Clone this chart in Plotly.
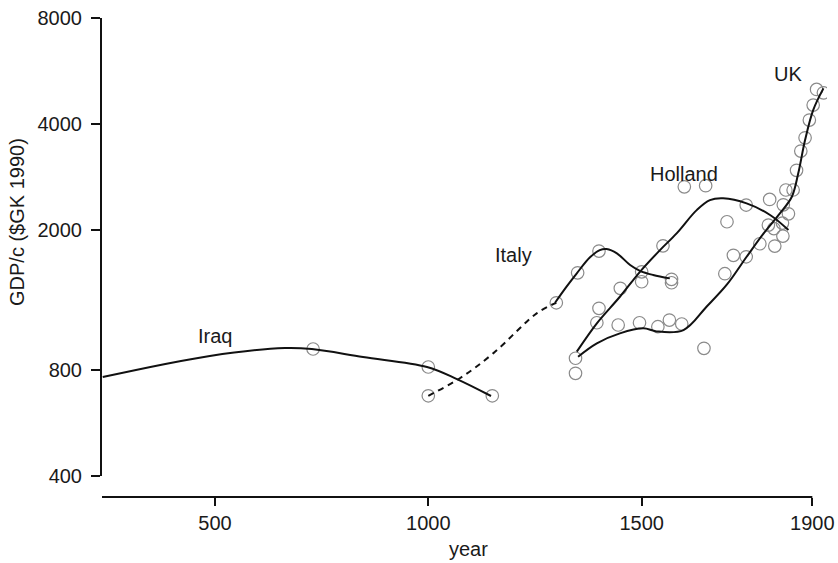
import math
import plotly.graph_objects as go

# ---------------- data ----------------
iraq_pts_year = [730, 1000, 1150]
iraq_pts_gdp = [918, 816, 676]

italy_pts_year = [1000, 1300, 1350, 1400, 1500, 1500, 1570, 1570]
italy_pts_gdp = [676, 1242, 1511, 1742, 1521, 1425, 1448, 1416]

holland_pts_year = [1400, 1450, 1550, 1600, 1650, 1700, 1745, 1800, 1810, 1830, 1838, 1855]
holland_pts_gdp = [1198, 1365, 1803, 2652, 2671, 2110, 2354, 2442, 2018, 2092, 2597, 2597]

uk_pts_year = [1345, 1345, 1395, 1445, 1495, 1538, 1565, 1594, 1646, 1695, 1715, 1745, 1777,
               1797, 1812, 1831, 1832, 1844, 1863, 1873, 1883, 1893, 1902, 1910, 1926]
uk_pts_gdp = [864, 783, 1090, 1074, 1090, 1062, 1109, 1081, 922, 1502, 1694, 1678, 1827,
              2065, 1800, 1921, 2357, 2222, 2953, 3350, 3654, 4102, 4525, 5015, 4905]

# smoothed trend curves
iraq_fit_year = [237, 488, 664, 727, 847, 997, 1067, 1147]
iraq_fit_gdp = [764, 877, 924, 918, 871, 816, 754, 675]

italy_gap_year = [1000, 1074, 1152, 1254, 1300]
italy_gap_gdp = [676, 758, 892, 1159, 1242]

italy_fit_year = [1297, 1324, 1348, 1379, 1402, 1418, 1442, 1473, 1496, 1527, 1566]
italy_fit_gdp = [1242, 1380, 1506, 1672, 1753, 1765, 1716, 1590, 1531, 1490, 1457]

holland_fit_year = [1348, 1395, 1449, 1496, 1543, 1582, 1629, 1660, 1691, 1746, 1801, 1844]
holland_fit_gdp = [902, 1086, 1292, 1521, 1753, 1956, 2277, 2431, 2459, 2380, 2205, 1998]

uk_fit_year = [1351, 1395, 1449, 1504, 1535, 1598, 1652, 1700, 1746, 1785, 1824, 1852,
               1867, 1883, 1902, 1926]
uk_fit_gdp = [873, 953, 1017, 1051, 1030, 1039, 1210, 1400, 1678, 1950, 2229, 2485,
              2896, 3600, 4380, 5048]

label_text = ["Iraq", "Italy", "Holland", "UK"]
label_year = [500, 1200, 1600, 1843]
label_gdp = [1000, 1700, 2880, 5540]

y_ticks = [400, 800, 2000, 4000, 8000]
x_ticks = [500, 1000, 1500, 1900]

# ---------------- figure ----------------
FONT = "Liberation Sans, Arial, Helvetica, sans-serif"
TXT = "#1a1a1a"
W, H = 838, 563
ML, MR, MT, MB = 102, 11, 18, 66
plot_w = W - ML - MR
plot_h = H - MT - MB
x_lo = 235.3
x_hi = x_lo + plot_w / 0.4267
y_dom0 = 21 / plot_h

fig = go.Figure()

mk = dict(symbol="circle-open", size=12.5, color="#8a8a8a", line=dict(width=1.2, color="#8a8a8a"))
for xs, ys in [(iraq_pts_year, iraq_pts_gdp), (italy_pts_year, italy_pts_gdp),
               (holland_pts_year, holland_pts_gdp), (uk_pts_year, uk_pts_gdp)]:
    fig.add_trace(go.Scatter(x=xs, y=ys, mode="markers", marker=mk, showlegend=False,
                             hoverinfo="x+y"))

ln = dict(color="#111111", width=2)
for xs, ys in [(iraq_fit_year, iraq_fit_gdp), (italy_fit_year, italy_fit_gdp),
               (holland_fit_year, holland_fit_gdp), (uk_fit_year, uk_fit_gdp)]:
    fig.add_trace(go.Scatter(x=xs, y=ys, mode="lines", line=dict(shape="spline", **ln),
                             showlegend=False))
fig.add_trace(go.Scatter(x=italy_gap_year, y=italy_gap_gdp, mode="lines",
                         line=dict(shape="spline", dash="6px,5px", **ln), showlegend=False))

for t, xv, yv in zip(label_text, label_year, label_gdp):
    fig.add_annotation(x=xv, y=math.log10(yv), xref="x", yref="y", text=t, showarrow=False,
                       xanchor="center", yanchor="middle",
                       font=dict(family=FONT, size=20, color=TXT))

# axis titles
fig.add_annotation(x=(17 - ML) / plot_w, y=(H - MB - 222) / plot_h, xref="paper", yref="paper",
                   text="GDP/c ($GK 1990)", textangle=-90, showarrow=False,
                   xanchor="center", yanchor="middle",
                   font=dict(family=FONT, size=20, color=TXT))
fig.add_annotation(x=(468 - ML) / plot_w, y=(H - MB - 549) / plot_h, xref="paper", yref="paper",
                   text="year", showarrow=False, xanchor="center", yanchor="middle",
                   font=dict(family=FONT, size=20, color=TXT))

# x-axis line (from the left limit to the last tick)
fig.add_shape(type="line", xref="x", yref="paper", x0=x_lo, x1=x_ticks[-1], y0=0, y1=0,
              line=dict(color="#111111", width=2))

fig.update_layout(
    width=W, height=H,
    margin=dict(l=ML, r=MR, t=MT, b=MB),
    paper_bgcolor="white", plot_bgcolor="white",
    font=dict(family=FONT, size=20, color=TXT),
    xaxis=dict(range=[x_lo, x_hi], anchor="free", position=0, showline=False,
               showgrid=False, zeroline=False, tickmode="array", tickvals=x_ticks,
               ticktext=[str(v) for v in x_ticks], ticks="outside", ticklen=8, tickwidth=2,
               tickcolor="#111111", tickfont=dict(size=20, color=TXT), automargin=False),
    yaxis=dict(type="log", range=[math.log10(400), math.log10(8000)], domain=[y_dom0, 1],
               showline=True, linecolor="#111111", linewidth=2, showgrid=False,
               zeroline=False, tickmode="array", tickvals=y_ticks,
               ticktext=[str(v) for v in y_ticks], ticks="outside", ticklen=9, tickwidth=2,
               tickcolor="#111111", ticklabelstandoff=5, tickfont=dict(size=20, color=TXT),
               automargin=False),
)

fig.write_html("out.html", config={"displayModeBar": False},
               post_script="document.body.style.margin='0px';document.body.style.overflow='hidden';")
